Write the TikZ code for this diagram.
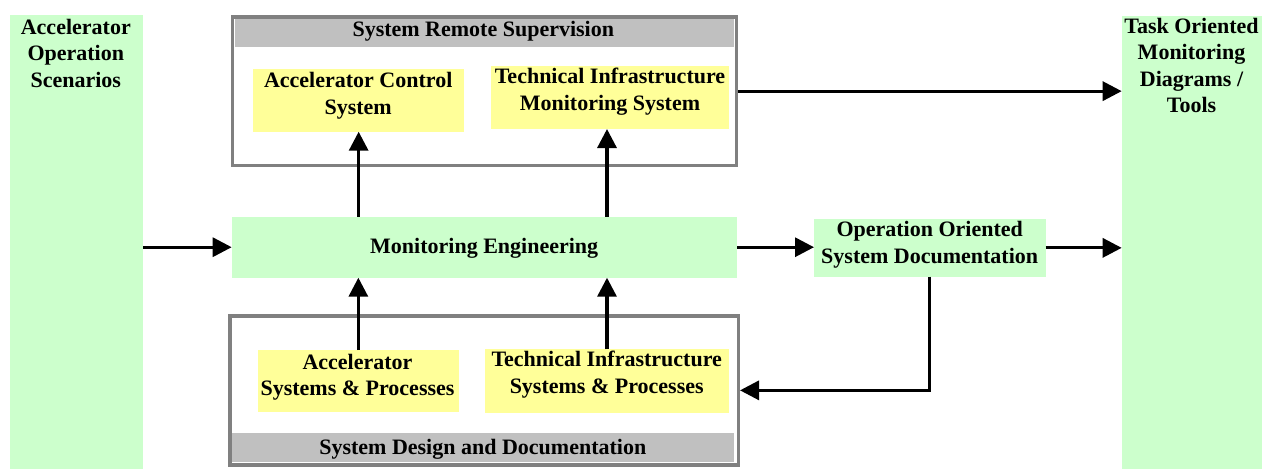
\documentclass[tikz,border=0pt]{standalone}
\usepackage{fontspec}
\setmainfont{Liberation Serif}
\usetikzlibrary{arrows.meta}
\definecolor{lgreen}{HTML}{CCFFCC}
\definecolor{lyellow}{HTML}{FFFF99}
\definecolor{bandgray}{HTML}{C0C0C0}
\definecolor{bordgray}{HTML}{808080}
\begin{document}
\begin{tikzpicture}[x=1pt,y=-1pt,
  box/.style={inner sep=0pt, outer sep=0pt, anchor=north west},
  greenbox/.style={box, fill=lgreen},
  yellowbox/.style={box, fill=lyellow},
  framebox/.style={box, draw=bordgray, line width=3.5pt, outer sep=1.75pt},
  band/.style={box, fill=bandgray},
  lbl/.style={font=\fontsize{22}{26.5}\selectfont\bfseries, align=center, anchor=base, inner sep=0pt, outer sep=0pt},
  arr/.style={line width=3.2pt, -{Triangle[length=19pt,width=19pt]}}
]
\useasboundingbox (0,0) rectangle (1273,471);

% side boxes (label anchors are at the baseline of the last line)
\node[greenbox, minimum width=133.3pt, minimum height=454pt] (aos) at (10,15) {};
\node[lbl] (aost) at (75.8,87.3) {Accelerator\\Operation\\Scenarios};
\node[greenbox, minimum width=140pt, minimum height=453pt] (tomd) at (1121.7,16) {};
\node[lbl] (tomdt) at (1191.5,112.5) {Task Oriented\\Monitoring\\Diagrams /\\Tools};

% top frame
\node[framebox, minimum width=503.8pt, minimum height=148.8pt] (srsframe) at (230.7,15) {};
\node[band, minimum width=499pt, minimum height=28.2pt] (srsband) at (234.5,18.5) {};
\node[lbl] (srst) at (483.3,36.7) {System Remote Supervision};
\node[yellowbox, minimum width=210.7pt, minimum height=62.7pt] (acs) at (253.3,69) {};
\node[lbl] (acst) at (358.2,114) {Accelerator Control\\System};
\node[yellowbox, minimum width=238pt, minimum height=63.3pt] (tims) at (491,65.7) {};
\node[lbl] (timst) at (610,110) {Technical Infrastructure\\Monitoring System};

% middle row
\node[greenbox, minimum width=505.6pt, minimum height=61pt] (me) at (231.7,216.7) {};
\node[lbl] (met) at (484.2,253.3) {Monitoring Engineering};
\node[greenbox, minimum width=231.7pt, minimum height=57.7pt] (oosd) at (814,219) {};
\node[lbl] (oosdt) at (929.7,263.3) {Operation Oriented\\System Documentation};

% bottom frame
\node[framebox, minimum width=508.2pt, minimum height=149.2pt] (sddframe) at (228.3,314) {};
\node[band, minimum width=502pt, minimum height=29pt] (sddband) at (232,433.3) {};
\node[lbl] (sddt) at (482.8,454) {System Design and Documentation};
\node[yellowbox, minimum width=201.3pt, minimum height=61.7pt] (asp) at (257.7,350) {};
\node[lbl] (aspt) at (357.5,395.7) {Accelerator\\Systems \& Processes};
\node[yellowbox, minimum width=244pt, minimum height=63.4pt] (tisp) at (485,349.3) {};
\node[lbl] (tispt) at (606.7,393.3) {Technical Infrastructure\\Systems \& Processes};

% connectors
\draw[arr] (aos.east |- me.west) -- (me.west);
\draw[arr] (me.north -| acs.south) -- (acs.south);
\draw[arr] (me.north -| tisp.north) -- (tims.south -| tisp.north);
\draw[arr] (asp.north) -- (asp.north |- me.south);
\draw[arr] (tisp.north) -- (tisp.north |- me.south);
\draw[arr] (me.east) -- (me.east -| oosd.west);
\draw[arr] (oosd.east) -- (oosd.east -| tomd.west);
\draw[arr] (srsframe.east) -- (srsframe.east -| tomd.west);
\draw[arr] (oosd.south) |- (sddframe.east);
\end{tikzpicture}
\end{document}
